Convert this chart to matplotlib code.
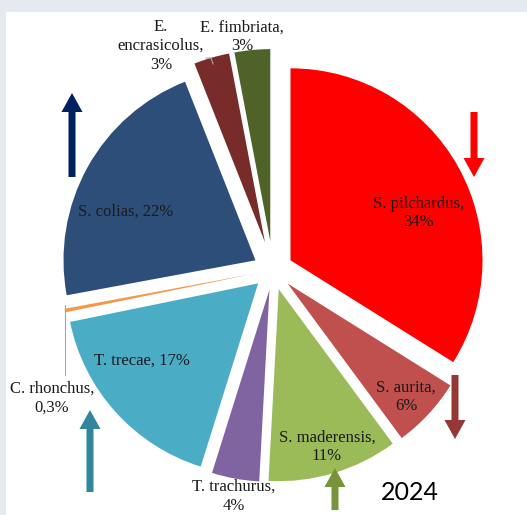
import matplotlib.pyplot as plt
from matplotlib.patches import Rectangle, FancyArrow

# species share of the catch, 2024
species = ['S. pilchardus', 'S. aurita', 'S. maderensis', 'T. trachurus', 'T. trecae',
           'C. rhonchus', 'S. colias', 'E. encrasicolus', 'E. fimbriata']
shares = [34, 6, 11, 4, 17, 0.3, 22, 3, 3]
share_txt = ['34%', '6%', '11%', '4%', '17%', '0,3%', '22%', '3%', '3%']

colors = ['#ff0000', '#c0504d', '#9bbb59', '#8064a2', '#4bacc6',
          '#f79646', '#2c4e78', '#772c2a', '#4f6228']
explode = [20, 20, 20, 20, 20, 20, 20, 29, 29]

# label text layout (x, y in pixel units, y up) and line breaks
label_xy = [(419, 302), (406, 118), (327, 68), (234, 19), (142, 154),
            (52, 117), (126, 303), (161, 469), (242, 478)]
label_fmt = ['{},\n{}', '{},\n{}', '{},\n{}', '{},\n{}', '{}, {}',
             '{},\n{}', '{}, {}', 'E.\nencrasicolus,\n{1}', '{},\n{}']

W, H = 527, 515
fig = plt.figure(figsize=(W / 100, H / 100), dpi=100, facecolor='#e4eaef')
ax = fig.add_axes([0, 0, 1, 1])

ax.add_patch(Rectangle((6, 0), W, 503, facecolor='white', edgecolor='none', zorder=0))

ax.pie(shares, colors=colors, explode=explode, startangle=90, counterclock=False,
       center=(273, 245), radius=192, frame=True,
       wedgeprops=dict(linewidth=0))
ax.set_xlim(0, W)
ax.set_ylim(0, H)
ax.axis('off')

serif = 'Liberation Serif'
for name, txt, fmt, (x, y) in zip(species, share_txt, label_fmt, label_xy):
    ax.text(x, y, fmt.format(name, txt), ha='center', va='center', family=serif,
            fontsize=12, color='#1a1a1a', linespacing=1.25, zorder=5)

# leader lines for the small slices
ax.plot([65, 65], [210, 140], color='#a6a6a6', lw=0.8, zorder=4)
ax.plot([206, 211, 213], [457, 457, 451], color='#a6a6a6', lw=0.8, zorder=4)

# trend arrows
arrows = [(72, 338, 84, '#002060'), (474, 403, -65, '#ff0000'),
          (455, 140, -64, '#953735'), (90, 23, 82, '#31859c'),
          (335, 5, 42, '#77933c')]
for x, y, dy, c in arrows:
    ax.add_patch(FancyArrow(x, y, 0, dy, width=7, head_width=21, head_length=19,
                            length_includes_head=True, color=c, lw=0, zorder=6))

ax.text(410, 23, '2024', ha='center', va='center', family='Lato', fontsize=18,
        color='black', zorder=6)

fig.savefig('out.png', dpi=100, facecolor=fig.get_facecolor())
